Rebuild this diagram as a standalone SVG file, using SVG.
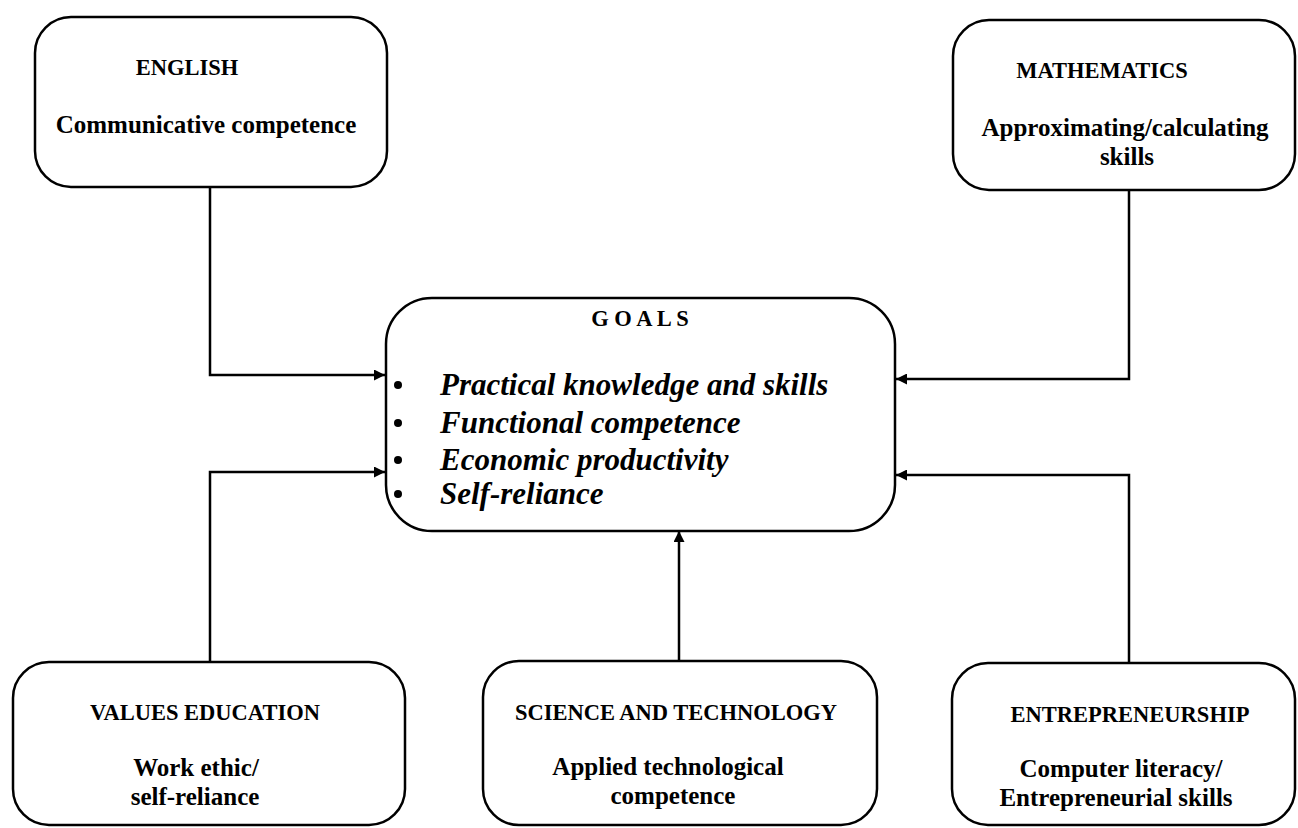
<svg xmlns="http://www.w3.org/2000/svg" width="1298" height="828" viewBox="0 0 1298 828">
<defs>
<marker id="arr" viewBox="0 0 10 10" refX="10" refY="5" markerWidth="11" markerHeight="11" markerUnits="userSpaceOnUse" orient="auto">
<path d="M0,0 L10,5 L0,10 z" fill="#000"/>
</marker>
<style>
.box{fill:#fff;stroke:#000;stroke-width:2.5}
.ttl{font-family:"Liberation Serif","Times New Roman",serif;font-weight:bold;font-size:22.5px;fill:#000;text-anchor:middle}
.sub{font-family:"Liberation Serif","Times New Roman",serif;font-weight:bold;font-size:25px;fill:#000;text-anchor:middle}
.goal{font-family:"Liberation Serif","Times New Roman",serif;font-weight:bold;font-style:italic;font-size:31px;fill:#000}
.con{fill:none;stroke:#000;stroke-width:2.5;marker-end:url(#arr)}
</style>
</defs>
<rect width="1298" height="828" fill="#fff"/>
<g id="connectors">
<path class="con" d="M210,187 V375 H385"/>
<path class="con" d="M1129,190 V379 H896"/>
<path class="con" d="M210,662 V472 H385"/>
<path class="con" d="M679,661 V531"/>
<path class="con" d="M1129,663 V475 H896"/>
</g>
<g id="english">
<rect class="box" x="35" y="17" width="352" height="170" rx="36"/>
<text class="ttl" x="187" y="75">ENGLISH</text>
<text class="sub" x="206" y="133">Communicative competence</text>
</g>
<g id="mathematics">
<rect class="box" x="953" y="20" width="342" height="170" rx="36"/>
<text class="ttl" x="1102" y="78">MATHEMATICS</text>
<text class="sub" x="1125" y="136">Approximating/calculating</text>
<text class="sub" x="1127" y="165">skills</text>
</g>
<g id="goals">
<rect class="box" x="386" y="298" width="509" height="233" rx="46"/>
<text class="ttl" x="640" y="326" font-size="23">G O A L S</text>
<circle cx="398" cy="385" r="4"/>
<circle cx="398" cy="423" r="4"/>
<circle cx="398" cy="460" r="4"/>
<circle cx="398" cy="494" r="4"/>
<text class="goal" x="440" y="395">Practical knowledge and skills</text>
<text class="goal" x="440" y="433">Functional competence</text>
<text class="goal" x="440" y="470">Economic productivity</text>
<text class="goal" x="440" y="504">Self-reliance</text>
</g>
<g id="values">
<rect class="box" x="13" y="662" width="392" height="163" rx="36"/>
<text class="ttl" x="205" y="720">VALUES EDUCATION</text>
<text class="sub" x="196" y="776">Work ethic/</text>
<text class="sub" x="195" y="805">self-reliance</text>
</g>
<g id="science">
<rect class="box" x="483" y="661" width="394" height="164" rx="36"/>
<text class="ttl" x="676" y="720">SCIENCE AND TECHNOLOGY</text>
<text class="sub" x="668" y="775">Applied technological</text>
<text class="sub" x="673" y="804">competence</text>
</g>
<g id="entrepreneurship">
<rect class="box" x="952" y="663" width="343" height="162" rx="36"/>
<text class="ttl" x="1130" y="722">ENTREPRENEURSHIP</text>
<text class="sub" x="1121" y="777">Computer literacy/</text>
<text class="sub" x="1116" y="806">Entrepreneurial skills</text>
</g>
</svg>
